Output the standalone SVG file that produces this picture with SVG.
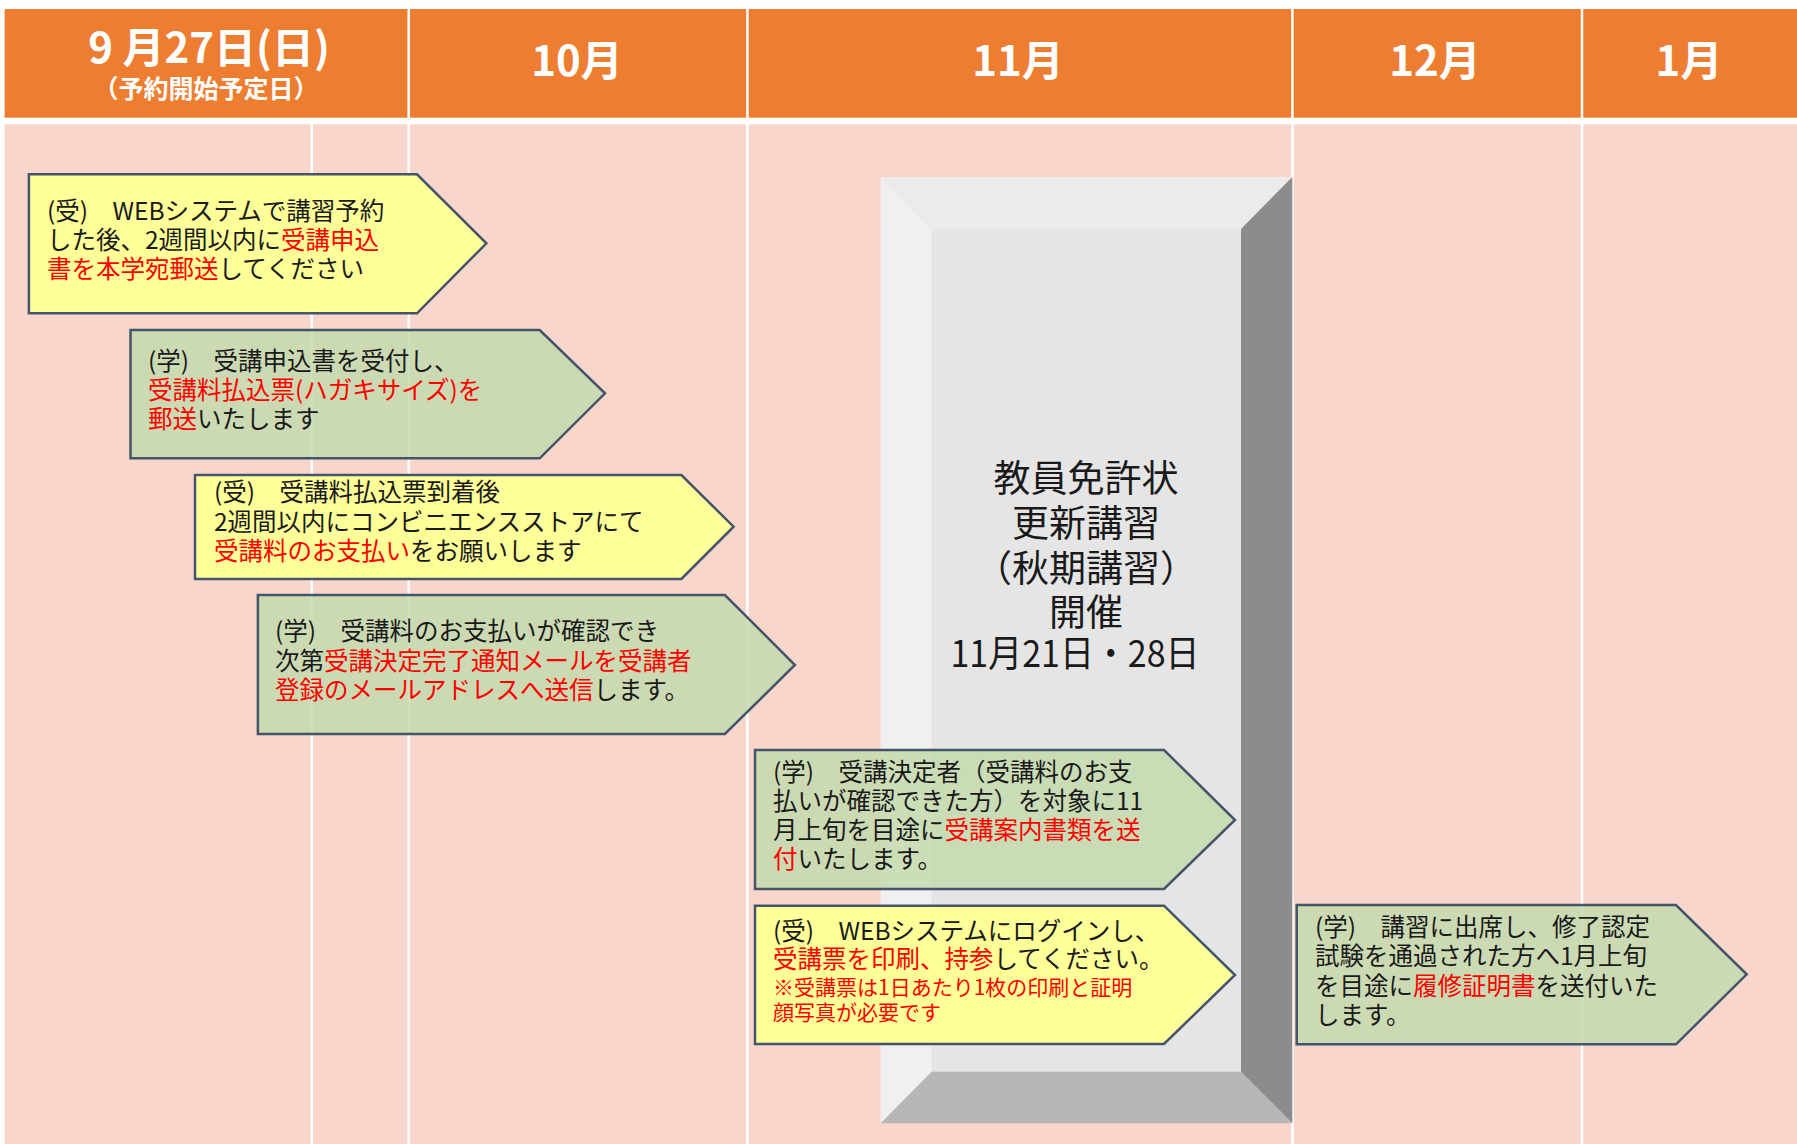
<svg xmlns="http://www.w3.org/2000/svg" width="1797" height="1144" viewBox="0 0 1797 1144">
<style>
.hdr{fill:#ED7D31}
.body{fill:#F8D6CC}
.div{stroke:#FFFFFF;stroke-width:2.5}
.ht{font-family:"Noto Sans CJK JP","Noto Sans",sans-serif;font-weight:bold;fill:#FFFFFF;text-anchor:middle}
.y{fill:#FFFF99;stroke:#44546A;stroke-width:2.5;stroke-linejoin:miter}
.g{fill:#C4DBAE;fill-opacity:0.85;stroke:#44546A;stroke-width:2.5;stroke-linejoin:miter}
.t{font-family:"Noto Sans CJK JP","Noto Sans",sans-serif;font-size:24.5px;fill:#1A1A1A}
.s{font-size:21px}
.r{fill:#FF0000}
.ct{font-family:"Noto Sans CJK JP","Noto Sans",sans-serif;font-size:37px;fill:#1A1A1A;text-anchor:middle}
</style>
<rect width="1797" height="1144" fill="#FFFFFF"/>
<g id="header">
<rect class="hdr" x="4.6" y="9" width="1792.4" height="108.7"/>
<line class="div" x1="408.7" y1="9" x2="408.7" y2="118"/>
<line class="div" x1="747.4" y1="9" x2="747.4" y2="118"/>
<line class="div" x1="1292.4" y1="9" x2="1292.4" y2="118"/>
<line class="div" x1="1582" y1="9" x2="1582" y2="118"/>
<text class="ht" x="209" y="63" font-size="42">9 月27日(日)</text>
<text class="ht" x="206" y="98" font-size="25" font-weight="normal">（予約開始予定日）</text>
<text class="ht" x="577" y="76" font-size="42">10月</text>
<text class="ht" x="1018" y="76" font-size="42">11月</text>
<text class="ht" x="1435" y="76" font-size="42">12月</text>
<text class="ht" x="1689" y="76" font-size="42">1月</text>
</g>
<g id="timeline-body">
<rect class="body" x="4.6" y="124.3" width="1792.4" height="1019.7"/>
<line class="div" x1="311.7" y1="124" x2="311.7" y2="1144"/>
<line class="div" x1="408.7" y1="124" x2="408.7" y2="1144"/>
<line class="div" x1="747.4" y1="124" x2="747.4" y2="1144"/>
<line class="div" x1="1292.4" y1="124" x2="1292.4" y2="1144"/>
<line class="div" x1="1582" y1="124" x2="1582" y2="1144"/>
</g>
<g id="session-block">
<rect x="931.7" y="229" width="309.3" height="842.7" fill="#E5E5E5"/>
<polygon points="880.7,177 1292.3,177 1241,229 931.7,229" fill="#EBEBEB"/>
<polygon points="880.7,177 931.7,229 931.7,1071.7 880.7,1123.3" fill="#F0F0F0"/>
<polygon points="1292.3,177 1292.3,1123.3 1241,1071.7 1241,229" fill="#8C8C8C"/>
<polygon points="880.7,1123.3 931.7,1071.7 1241,1071.7 1292.3,1123.3" fill="#B7B7B7"/>
<text class="ct" x="1086" y="492">教員免許状</text>
<text class="ct" x="1086" y="537">更新講習</text>
<text class="ct" x="1086" y="582">（秋期講習）</text>
<text class="ct" x="1086" y="626">開催</text>
<text class="ct" x="1075" y="667" textLength="249" lengthAdjust="spacingAndGlyphs">11月21日・28日</text>
</g>
<g id="step1">
<polygon class="y" points="28.9,174.3 417,174.3 486.4,243.3 417,313.3 28.9,313.3"/>
<text class="t" x="47" y="220">(受)　WEBシステムで講習予約</text>
<text class="t" x="47" y="249">した後、2週間以内に<tspan class="r">受講申込</tspan></text>
<text class="t" x="47" y="278"><tspan class="r">書を本学宛郵送</tspan>してください</text>
</g>
<g id="step2">
<polygon class="g" points="130.5,330 539.7,330 605,393.3 539.7,458.3 130.5,458.3"/>
<text class="t" x="148" y="370">(学)　受講申込書を受付し、</text>
<text class="t" x="148" y="399"><tspan class="r">受講料払込票(ハガキサイズ)を</tspan></text>
<text class="t" x="148" y="428"><tspan class="r">郵送</tspan>いたします</text>
</g>
<g id="step3">
<polygon class="y" points="195,475 681.4,475 733.6,526.7 681.4,579 195,579"/>
<text class="t" x="214" y="501">(受)　受講料払込票到着後</text>
<text class="t" x="214" y="531">2週間以内にコンビニエンスストアにて</text>
<text class="t" x="214" y="560"><tspan class="r">受講料のお支払い</tspan>をお願いします</text>
</g>
<g id="step4">
<polygon class="g" points="257.9,595 724.9,595 794.9,665 724.9,734 257.9,734"/>
<text class="t" x="275" y="640">(学)　受講料のお支払いが確認でき</text>
<text class="t" x="275" y="670">次第<tspan class="r">受講決定完了通知メールを受講者</tspan></text>
<text class="t" x="275" y="699"><tspan class="r">登録のメールアドレスへ送信</tspan>します。</text>
</g>
<g id="step5">
<polygon class="g" points="755,750 1164,750 1235,820 1164,889 755,889"/>
<text class="t" x="773" y="781">(学)　受講決定者（受講料のお支</text>
<text class="t" x="773" y="810">払いが確認できた方）を対象に11</text>
<text class="t" x="773" y="839">月上旬を目途に<tspan class="r">受講案内書類を送</tspan></text>
<text class="t" x="773" y="868"><tspan class="r">付</tspan>いたします。</text>
</g>
<g id="step6">
<polygon class="y" points="755,905.7 1164,905.7 1235,975 1164,1044 755,1044"/>
<text class="t" x="773" y="940">(受)　WEBシステムにログインし、</text>
<text class="t" x="773" y="968"><tspan class="r">受講票を印刷、持参</tspan>してください。</text>
<text class="t s r" x="773" y="995">※受講票は1日あたり1枚の印刷と証明</text>
<text class="t s r" x="773" y="1020">顔写真が必要です</text>
</g>
<g id="step7">
<polygon class="g" points="1296.7,905 1676,905 1746.7,974.3 1676,1044.3 1296.7,1044.3"/>
<text class="t" x="1315" y="936">(学)　講習に出席し、修了認定</text>
<text class="t" x="1315" y="965">試験を通過された方へ1月上旬</text>
<text class="t" x="1315" y="995">を目途に<tspan class="r">履修証明書</tspan>を送付いた</text>
<text class="t" x="1315" y="1024">します。</text>
</g>
</svg>
